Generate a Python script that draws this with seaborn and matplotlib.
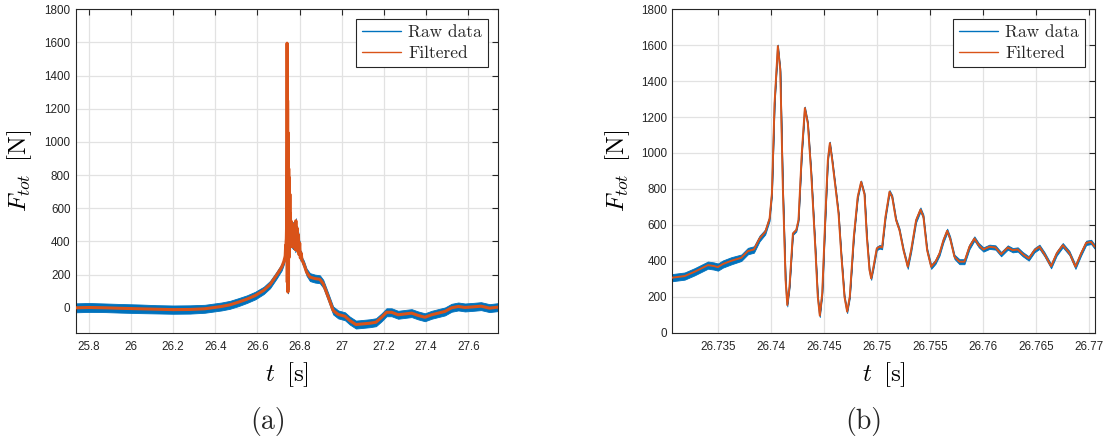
import matplotlib
matplotlib.use("Agg")
import matplotlib.pyplot as plt
from matplotlib.ticker import FormatStrFormatter
import seaborn as sns
import numpy as np
import pandas as pd

# zoomed window around the impact (panel b); it is also the spike inside panel a
t_fine = [
    26.73066, 26.73186, 26.7328, 26.73406, 26.73462, 26.735, 26.73547, 26.73626, 26.73721, 26.73783,
    26.7384, 26.73893, 26.73947, 26.73988, 26.7401, 26.74035, 26.74066, 26.74089, 26.74113, 26.74139,
    26.74155, 26.74176, 26.74208, 26.7424, 26.74261, 26.74292, 26.74321, 26.74349, 26.74381, 26.74419,
    26.74443, 26.74462, 26.74485, 26.74513, 26.74538, 26.74557, 26.74579, 26.74617, 26.74639, 26.74664,
    26.74695, 26.7472, 26.74745, 26.74783, 26.7482, 26.74852, 26.74884, 26.74906, 26.74931, 26.74947,
    26.74969, 26.75, 26.75025, 26.7505, 26.75082, 26.7512, 26.75145, 26.75182, 26.75214, 26.75252,
    26.75292, 26.75324, 26.75371, 26.75412, 26.7544, 26.75475, 26.75513, 26.75554, 26.75592, 26.75629,
    26.75664, 26.75692, 26.75733, 26.7578, 26.75827, 26.75874, 26.75921, 26.75962, 26.76006, 26.76063,
    26.7612, 26.76173, 26.76236, 26.76283, 26.7633, 26.76377, 26.76434, 26.76488, 26.76535, 26.76582,
    26.76645, 26.76698, 26.76755, 26.76818, 26.76875, 26.76928, 26.76976, 26.77023, 26.77054, 26.7706,
]
f_fine = [
    306, 315, 339, 376, 371, 365, 382, 400, 417, 454,
    463, 524, 561, 635, 774, 1276, 1595, 1461, 812, 293,
    154, 256, 552, 571, 627, 998, 1250, 1165, 887, 478,
    200, 95, 219, 627, 961, 1055, 961, 774, 663, 441,
    200, 117, 200, 533, 756, 839, 770, 534, 349, 302,
    367, 469, 478, 474, 645, 784, 756, 626, 571, 459,
    367, 459, 626, 685, 645, 459, 367, 395, 441, 515,
    567, 524, 422, 395, 395, 478, 524, 487, 463, 478,
    474, 437, 474, 459, 463, 437, 413, 459, 478, 437,
    370, 441, 487, 443, 367, 441, 500, 505, 481, 478,
]
# half height of the raw-data noise band around the filtered signal [N]
noise_fine = [
    20, 20, 20, 20, 20, 20, 20, 20, 18, 18,
    18, 16, 14, 12, 8, 8, 8, 8, 8, 8,
    8, 8, 8, 8, 8, 8, 8, 8, 8, 8,
    8, 8, 8, 8, 8, 8, 8, 8, 8, 8,
    8, 8, 8, 8, 8, 8, 8, 8, 8, 8,
    10, 10, 10, 10, 10, 10, 10, 10, 10, 10,
    12, 12, 12, 12, 12, 12, 12, 12, 12, 12,
    12, 12, 12, 14, 14, 14, 12, 12, 12, 12,
    12, 12, 12, 12, 12, 12, 12, 12, 12, 12,
    12, 12, 12, 12, 12, 12, 12, 12, 12, 12,
]

# panel a, before the zoomed window
t_pre = [25.74, 25.8, 25.88, 25.95, 26.04, 26.12, 26.2, 26.28, 26.35, 26.43,
         26.47, 26.51, 26.55, 26.59, 26.63, 26.66, 26.69, 26.715, 26.725]
f_pre = [0, 2, 0, -3, -6, -9, -11, -10, -6, 8,
         18, 34, 52, 74, 105, 140, 195, 245, 278]
noise_pre = [27, 27, 26, 26, 26, 25, 25, 25, 24, 24,
             24, 24, 23, 23, 22, 22, 21, 20, 18]

# panel a, after the zoomed window
t_post = [26.7735, 26.7765, 26.7795, 26.7825, 26.7855, 26.7885, 26.7915, 26.7945, 26.7975, 26.8005,
          26.8035, 26.807, 26.812, 26.82, 26.833, 26.849, 26.873, 26.896, 26.912, 26.936,
          26.959, 26.983, 27.015, 27.038, 27.067, 27.101, 27.133, 27.162, 27.189, 27.212,
          27.236, 27.267, 27.299, 27.331, 27.362, 27.394, 27.426, 27.457, 27.489, 27.52,
          27.552, 27.584, 27.626, 27.66, 27.7, 27.74]
f_post = [400, 500, 350, 525, 360, 480, 340, 440, 320, 390,
          300, 330, 285, 265, 215, 185, 176, 172, 145, 64,
          -16, -40, -51, -77, -101, -97, -93, -87, -57, -27,
          -27, -42, -37, -32, -46, -57, -42, -32, -22, 0,
          8, 2, 6, 10, -2, 4]
noise_post = [15, 15, 15, 15, 15, 15, 15, 15, 15, 15,
              15, 15, 18, 20, 22, 24, 24, 24, 24, 24,
              24, 24, 24, 24, 24, 24, 24, 24, 24, 24,
              24, 24, 24, 24, 24, 24, 24, 24, 24, 24,
              24, 24, 24, 24, 24, 24]

xticks_a = [25.8, 26.0, 26.2, 26.4, 26.6, 26.8, 27.0, 27.2, 27.4, 27.6]
xticks_b = [26.735, 26.74, 26.745, 26.75, 26.755, 26.76, 26.765, 26.77]
yticks = [0, 200, 400, 600, 800, 1000, 1200, 1400, 1600, 1800]

BLUE = "#0072BD"
ORANGE = "#D95319"
DARK = "#262626"

sns.set_theme(style="white")
plt.rcParams["mathtext.fontset"] = "cm"
plt.rcParams["font.family"] = ["Liberation Sans", "DejaVu Sans"]

df_b = pd.DataFrame({"t": t_fine, "f": f_fine, "noise": noise_fine})
df_a = pd.concat([
    pd.DataFrame({"t": t_pre, "f": f_pre, "noise": noise_pre}),
    df_b,
    pd.DataFrame({"t": t_post, "f": f_post, "noise": noise_post}),
], ignore_index=True)

fig = plt.figure(figsize=(11.04, 4.4), dpi=100)
ax_a = fig.add_axes([0.0688, 0.2439, 0.3822, 0.7352])
ax_b = fig.add_axes([0.609, 0.2439, 0.3829, 0.7352])


def draw(ax, df, lw_filt):
    ax.fill_between(df["t"], df["f"] - df["noise"], df["f"] + df["noise"],
                    color=BLUE, lw=0.6, edgecolor=BLUE, zorder=2)
    sns.lineplot(x="t", y="f", data=df, ax=ax, color=BLUE, lw=1.0,
                 label="Raw data", zorder=3)
    sns.lineplot(x="t", y="f", data=df, ax=ax, color=ORANGE, lw=lw_filt,
                 label="Filtered", zorder=4)


def style(ax, xlim, ylim, xticks, ylabel_x):
    ax.set_xlim(*xlim)
    ax.set_ylim(*ylim)
    ax.set_xticks(xticks)
    ax.set_yticks(yticks)
    ax.xaxis.set_major_formatter(FormatStrFormatter("%g"))
    ax.grid(True, color="#e2e2e2", lw=0.9)
    ax.set_axisbelow(True)
    ax.tick_params(direction="in", length=4, width=0.8, colors=DARK,
                   labelsize=8.4, top=True, right=True)
    ax.tick_params(axis="x", pad=6)
    ax.tick_params(axis="y", pad=4)
    for s in ax.spines.values():
        s.set_visible(True)
        s.set_color(DARK)
        s.set_linewidth(0.8)
    ax.set_xlabel(r"$t\;\;[\mathrm{s}]$", fontsize=18, color="black")
    ax.set_ylabel(r"$F_{tot}\;\;[\mathrm{N}]$", fontsize=18, color="black")
    ax.xaxis.set_label_coords(0.5, -0.085)
    ax.yaxis.set_label_coords(ylabel_x, 0.5)
    leg = ax.legend(loc="upper right", bbox_to_anchor=(1, 1), borderaxespad=0.57,
                    prop={"family": "cmr10", "size": 12.5}, fancybox=False,
                    framealpha=1, edgecolor=DARK, handlelength=2.25,
                    handletextpad=0.4, borderpad=0.35, labelspacing=0.28)
    leg.get_frame().set_linewidth(0.8)
    for h in leg.get_lines():
        h.set_linewidth(1.0)


draw(ax_a, df_a, 2.2)
draw(ax_b, df_b, 1.4)
style(ax_a, (25.74, 27.74), (-150, 1800), xticks_a, -0.10)
style(ax_b, (26.7307, 26.7706), (0, 1800), xticks_b, -0.095)

fig.text(268 / 1104, 1 - 421 / 440, "(a)", family="cmr10", fontsize=20,
         ha="center", va="center")
fig.text(864 / 1104, 1 - 421 / 440, "(b)", family="cmr10", fontsize=20,
         ha="center", va="center")

fig.savefig("out.png", dpi=100)
plt.close(fig)
